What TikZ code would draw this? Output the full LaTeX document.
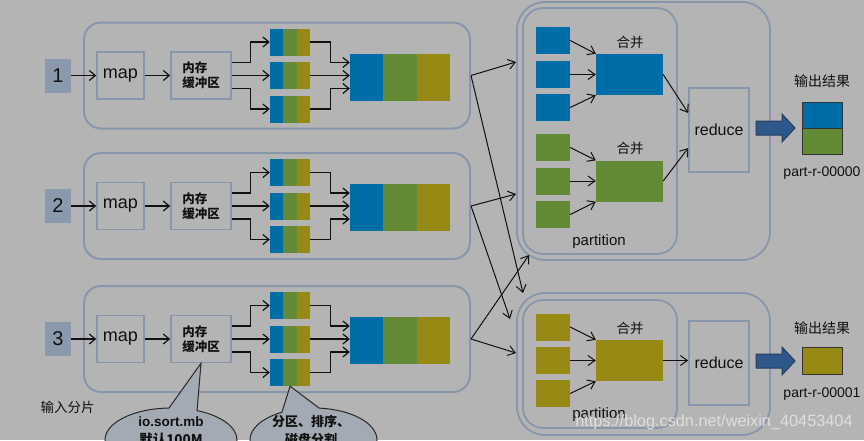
\documentclass[tikz,border=0pt]{standalone}
\usepackage{fontspec}
\setmainfont{Liberation Sans}
\newfontfamily\cjk{Noto Sans CJK SC}
\usetikzlibrary{arrows.meta,shapes.geometric,shapes.callouts}
\definecolor{bgc}{RGB}{180,180,180}
\definecolor{boxline}{RGB}{136,150,172}
\definecolor{numfill}{RGB}{138,154,172}
\definecolor{cblue}{RGB}{0,110,166}
\definecolor{cgreen}{RGB}{99,138,53}
\definecolor{colive}{RGB}{150,137,20}
\definecolor{arrfill}{RGB}{47,88,138}
\definecolor{arrline}{RGB}{35,62,100}
\definecolor{callfill}{RGB}{164,170,180}
\definecolor{callline}{RGB}{40,40,40}
\definecolor{ink}{RGB}{17,17,17}
\definecolor{wmark}{RGB}{222,222,222}
\begin{document}
\begin{tikzpicture}[x=1pt,y=-1pt,
  every node/.style={text=ink},
  box/.style={draw=boxline,line width=1.6pt,inner sep=0pt},
  rowbox/.style={draw=boxline,line width=2pt,rounded corners=17pt,inner sep=0pt,minimum width=386pt,minimum height=106pt},
  numbox/.style={fill=numfill,inner sep=0pt,minimum width=26pt,minimum height=34pt,font=\fontsize{20}{24}\selectfont},
  mapbox/.style={box,minimum width=47pt,minimum height=47pt,font=\fontsize{18}{20}\selectfont},
  bufbox/.style={box,minimum width=60pt,minimum height=47pt,align=left,font=\cjk\bfseries\fontsize{12.5}{15}\selectfont},
  seg/.style={inner sep=0pt,minimum height=27pt,minimum width=13.4pt},
  bigseg/.style={inner sep=0pt,minimum height=47pt,minimum width=33.4pt},
  conn/.style={draw=ink,line width=1.2pt,-{Straight Barb[length=6pt,width=10pt]}},
  xarrow/.style={draw=ink,line width=1pt,-{Straight Barb[length=7pt,width=10pt]}},
  grp/.style={draw=boxline,line width=1.8pt,inner sep=0pt},
  smallblk/.style={inner sep=0pt,minimum width=34pt,minimum height=27pt},
  merged/.style={inner sep=0pt,minimum width=67pt,minimum height=41pt},
  redbox/.style={box,minimum width=60pt,minimum height=84pt,font=\fontsize{16}{18}\selectfont},
  outblk/.style={draw=black!80,line width=1pt,inner sep=0pt,minimum width=40pt,minimum height=26pt},
  fatarrow/.style={fill=arrfill,draw=arrline,line width=1pt,line join=miter},
  cjklab/.style={font=\cjk\fontsize{13.5}{16}\selectfont},
  lab/.style={font=\fontsize{14}{16}\selectfont},
  bubble/.style={ellipse callout,draw=callline,fill=callfill,line width=1pt,minimum width=#1,minimum height=64pt,inner sep=0pt},
 ]
\useasboundingbox (0,0) rectangle (864,440);
\clip (0,0) rectangle (864,440);
\fill[bgc] (0,0) rectangle (864,440);

% ---- map rows ----
\foreach \r/\ym in {1/75.5,2/206,3/339}{
  \node[rowbox] (row\r) at (277,\ym) {};
  \node[numbox] (n\r) at (58,\ym) {\r};
  \node[mapbox] (map\r) at (120.5,\ym) {map};
  \node[bufbox] (buf\r) at (201,\ym) {内存\\缓冲区};
  \foreach \j/\dy in {1/-33.5,2/0,3/33.5}{
    \node[seg,fill=cblue] (sb\r\j) at (276.7,\ym+\dy) {};
    \node[seg,fill=cgreen] (sg\r\j) at (290.1,\ym+\dy) {};
    \node[seg,fill=colive] (so\r\j) at (303.5,\ym+\dy) {};
  }
  \node[bigseg,fill=cblue] (Bb\r) at (366.7,\ym+1.5) {};
  \node[bigseg,fill=cgreen] (Bg\r) at (400.1,\ym+1.5) {};
  \node[bigseg,fill=colive] (Bo\r) at (433.5,\ym+1.5) {};
  \draw[conn] (n\r) -- (map\r);
  \draw[conn] (map\r) -- (buf\r);
  \draw[conn] ([yshift=13pt]buf\r.east) -- ++(19,0) |- (sb\r1.west);
  \draw[conn] (buf\r) -- (sb\r2);
  \draw[conn] ([yshift=-13pt]buf\r.east) -- ++(19,0) |- (sb\r3.west);
  \draw[conn] (so\r1.east) -- ++(20,0) |- ([yshift=14.5pt]Bb\r.west);
  \draw[conn] (so\r2.east) -- (so\r2.east -| Bb\r.west);
  \draw[conn] (so\r3.east) -- ++(20,0) |- ([yshift=-11.5pt]Bb\r.west);
}
\node[cjklab,anchor=west] (inp) at (37,407) {输入分片};

% ---- reduce groups ----
\node[grp,rounded corners=28pt,minimum width=253pt,minimum height=258pt] (g1) at (643.5,131) {};
\node[grp,rounded corners=20pt,minimum width=154pt,minimum height=246pt] (p1) at (600,131) {};
\node[grp,rounded corners=28pt,minimum width=253pt,minimum height=142pt] (g2) at (643.5,364) {};
\node[grp,rounded corners=20pt,minimum width=154pt,minimum height=128pt] (p2) at (600,364) {};

\foreach \c/\col/\ya/\yb/\yc in {b/cblue/40.5/74.5/107.5,g/cgreen/147.5/181/214.5,o/colive/327/360.5/393.5}{
  \node[smallblk,fill=\col] (k\c1) at (553,\ya) {};
  \node[smallblk,fill=\col] (k\c2) at (553,\yb) {};
  \node[smallblk,fill=\col] (k\c3) at (553,\yc) {};
}
\node[merged,fill=cblue] (mb) at (629.5,74.5) {};
\node[merged,fill=cgreen] (mg) at (629.5,181) {};
\node[merged,fill=colive] (mo) at (629.5,360.5) {};
\foreach \c in {b,g,o}{
  \draw[xarrow] (k\c1.east) -- (m\c.north west);
  \draw[xarrow] (k\c2.east) -- (k\c2.east -| m\c.west);
  \draw[xarrow] (k\c3.east) -- (m\c.south west);
}
\node[cjklab] (hb1) at (630,42) {合并};
\node[cjklab] (hb2) at (630,148) {合并};
\node[cjklab] (hb3) at (630,328) {合并};
\node[font=\fontsize{15}{18}\selectfont] (pl1) at (599,242) {partition};
\node[font=\fontsize{15}{18}\selectfont] (pl2) at (599,415) {partition};

\node[redbox] (r1) at (719,130) {reduce};
\node[redbox] (r2) at (719,363) {reduce};
\draw[xarrow] (mb.east) -- ([yshift=17pt]r1.west);
\draw[xarrow] (mg.east) -- ([yshift=-18pt]r1.west);
\draw[xarrow] (mo.east) -- (mo.east -| r2.west);

% ---- output ----
\node[outblk,fill=cblue] (ob1) at (822,115) {};
\node[outblk,fill=cgreen] (og1) at (822,141) {};
\node[outblk,fill=colive,minimum height=27pt] (oo2) at (822,360.5) {};
\foreach \yc in {128,361}{
  \filldraw[fatarrow] (756,\yc-7) -- (782,\yc-7) -- (782,\yc-14) -- (795,\yc) -- (782,\yc+14) -- (782,\yc+7) -- (756,\yc+7) -- cycle;
}
\node[font=\cjk\fontsize{14}{16}\selectfont] (ol1) at (822,81) {输出结果};
\node[font=\cjk\fontsize{14}{16}\selectfont] (ol2) at (822,328) {输出结果};
\node[lab] (pr1) at (822,173) {part-r-00000};
\node[lab] (pr2) at (822,394) {part-r-00001};

% ---- shuffle connectors ----
\coordinate (t1a) at (516,62);
\coordinate (t1b) at (523,293);
\coordinate (t2a) at (516,194);
\coordinate (t2b) at (510,319);
\coordinate (t3a) at (529,255);
\coordinate (t3b) at (516,353);
\draw[xarrow] (row1.east) -- (t1a);
\draw[xarrow] (row1.east) -- (t1b);
\draw[xarrow] (row2.east) -- (t2a);
\draw[xarrow] (row2.east) -- (t2b);
\draw[xarrow] (row3.east) -- (t3a);
\draw[xarrow] (row3.east) -- (t3b);

% ---- callouts ----
\node[bubble=132pt,callout absolute pointer={(buf3.south)},callout pointer arc=25] (c1) at (171,440) {};
\node[bubble=127pt,callout absolute pointer={(sg33.south)},callout pointer arc=35] (c2) at (313.5,440) {};
\node[font=\bfseries\fontsize{13.5}{18}\selectfont,align=center] (c1t) at (171,431) {io.sort.mb\\{\cjk\bfseries 默认100M}};
\node[font=\cjk\bfseries\fontsize{13}{18}\selectfont,align=center] (c2t) at (311,431) {分区、排序、\\磁盘分割};

\node[font=\fontsize{16.3}{18}\selectfont,text=wmark] (wm) at (714,422) {https://blog.csdn.net/weixin\_40453404};
\end{tikzpicture}
\end{document}
